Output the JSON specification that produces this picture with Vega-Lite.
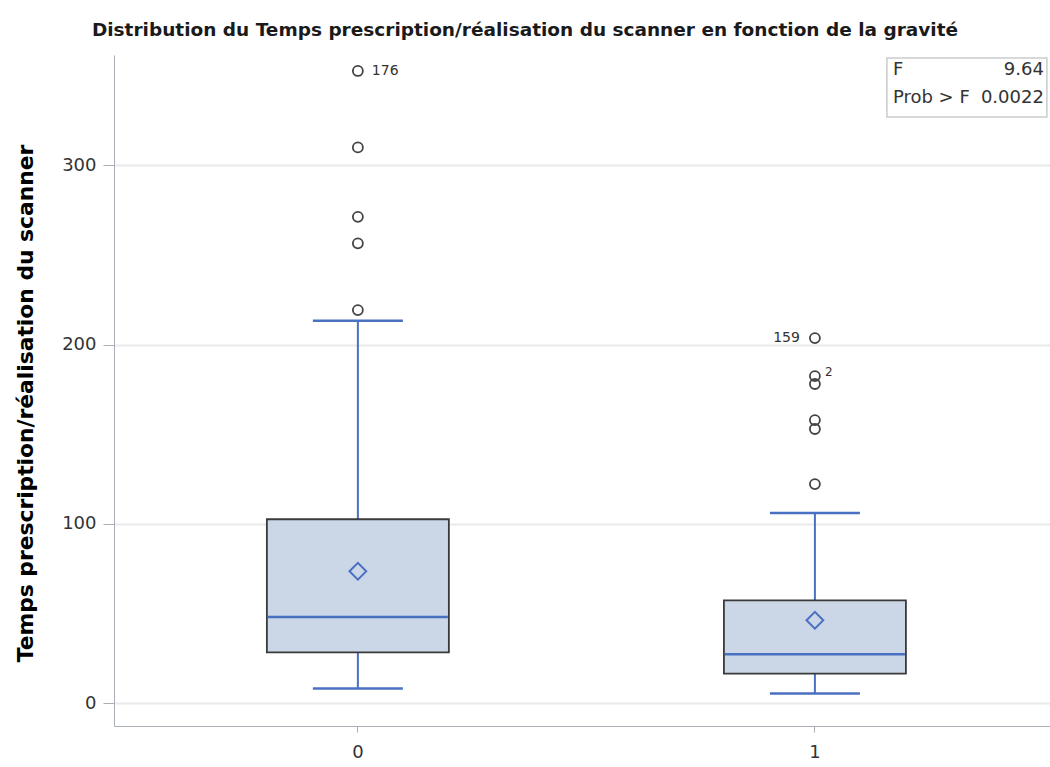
{
  "$schema": "https://vega.github.io/schema/vega-lite/v6.json",
  "width": 936,
  "height": 671,
  "autosize": {"type": "none"},
  "padding": {"left": 114, "top": 55, "right": 0, "bottom": 41},
  "background": "white",
  "config": {
    "view": {"stroke": null},
    "font": "DejaVu Sans",
    "axis": {
      "domainColor": "#a9afb5",
      "tickColor": "#a9afb5",
      "labelColor": "#333333",
      "labelFont": "DejaVu Sans",
      "labelFontSize": 18,
      "titleFont": "DejaVu Sans",
      "titleColor": "#000000"
    }
  },
  "title": {
    "text": "Distribution du Temps prescription/réalisation du scanner en fonction de la gravité",
    "font": "DejaVu Sans",
    "fontSize": 18.5,
    "fontWeight": "bold",
    "color": "#1a1a1a",
    "anchor": "middle",
    "dx": -57,
    "offset": 16
  },
  "datasets": {
    "boxes": [
      {"grav": "0", "min": 8.2, "q1": 28.4, "median": 48.1, "q3": 102.6, "max": 213.2, "mean": 73.6},
      {"grav": "1", "min": 5.4, "q1": 16.6, "median": 27.3, "q3": 57.4, "max": 106.1, "mean": 46.3}
    ],
    "outliers": [
      {"grav": "0", "v": 219.2},
      {"grav": "0", "v": 256.4},
      {"grav": "0", "v": 271.2},
      {"grav": "0", "v": 309.9},
      {"grav": "0", "v": 352.5},
      {"grav": "1", "v": 122.2},
      {"grav": "1", "v": 152.9},
      {"grav": "1", "v": 157.9},
      {"grav": "1", "v": 178.0},
      {"grav": "1", "v": 182.4},
      {"grav": "1", "v": 203.6}
    ],
    "labels_right": [
      {"grav": "0", "v": 352.5, "txt": "176"}
    ],
    "labels_left": [
      {"grav": "1", "v": 203.6, "txt": "159"}
    ],
    "labels_small": [
      {"grav": "1", "v": 182.4, "txt": "2"}
    ],
    "inset": [
      {"grav": "1", "top": 359.7, "bottom": 326.8}
    ],
    "inset_rows": [
      {"grav": "1", "y": 352.8, "label": "F", "val": "9.64"},
      {"grav": "1", "y": 337.2, "label": "Prob > F", "val": "0.0022"}
    ]
  },
  "encoding": {
    "x": {
      "field": "grav",
      "type": "nominal",
      "scale": {"type": "band", "paddingInner": 0, "paddingOuter": 0.024, "align": 0.7},
      "axis": {"title": null, "labelAngle": 0, "grid": false, "tickSize": 6, "labelPadding": 11, "labelFontSize": 18}
    }
  },
  "layer": [
    {
      "data": {"name": "boxes"},
      "mark": {"type": "rule", "color": "#4a70c2", "strokeWidth": 2},
      "encoding": {
        "y": {
          "field": "min",
          "type": "quantitative",
          "scale": {"domain": [-12.65, 361.4], "nice": false, "zero": false},
          "axis": {
            "title": "Temps prescription/réalisation du scanner",
            "titleFontSize": 21.8,
            "titleFontWeight": "bold",
            "titleX": -89,
            "titleY": 348,
            "titleBaseline": "middle",
            "titleAlign": "center",
            "titleAngle": -90,
            "values": [0, 100, 200, 300],
            "grid": true,
            "gridColor": "#e9e9e9",
            "gridWidth": 2,
            "tickSize": 11,
            "labelPadding": 7
          }
        },
        "y2": {"field": "q1"}
      }
    },
    {
      "data": {"name": "boxes"},
      "mark": {"type": "rule", "color": "#4a70c2", "strokeWidth": 2},
      "encoding": {
        "y": {"field": "q3", "type": "quantitative"},
        "y2": {"field": "max"}
      }
    },
    {
      "data": {"name": "boxes"},
      "mark": {"type": "bar", "size": 182, "fill": "#cbd6e6", "stroke": "#3a3a3a", "strokeWidth": 1.8},
      "encoding": {
        "y": {"field": "q1", "type": "quantitative"},
        "y2": {"field": "q3"}
      }
    },
    {
      "data": {"name": "boxes"},
      "mark": {"type": "tick", "size": 180, "thickness": 2.5, "color": "#4a70c2", "opacity": 1},
      "encoding": {
        "y": {"field": "median", "type": "quantitative"}
      }
    },
    {
      "data": {"name": "boxes"},
      "mark": {"type": "tick", "size": 90, "thickness": 2.5, "color": "#4a70c2", "opacity": 1},
      "encoding": {
        "y": {"field": "min", "type": "quantitative"}
      }
    },
    {
      "data": {"name": "boxes"},
      "mark": {"type": "tick", "size": 90, "thickness": 2.5, "color": "#4a70c2", "opacity": 1},
      "encoding": {
        "y": {"field": "max", "type": "quantitative"}
      }
    },
    {
      "data": {"name": "boxes"},
      "mark": {"type": "point", "shape": "diamond", "filled": false, "size": 280, "stroke": "#4a70c2", "strokeWidth": 2, "opacity": 1},
      "encoding": {
        "y": {"field": "mean", "type": "quantitative"}
      }
    },
    {
      "data": {"name": "outliers"},
      "mark": {"type": "point", "shape": "circle", "filled": false, "size": 100, "stroke": "#444444", "strokeWidth": 1.8, "opacity": 1},
      "encoding": {
        "y": {"field": "v", "type": "quantitative"}
      }
    },
    {
      "data": {"name": "labels_right"},
      "mark": {"type": "text", "align": "left", "baseline": "middle", "dx": 14, "font": "DejaVu Sans", "fontSize": 14, "color": "#333333"},
      "encoding": {
        "y": {"field": "v", "type": "quantitative"},
        "text": {"field": "txt"}
      }
    },
    {
      "data": {"name": "labels_left"},
      "mark": {"type": "text", "align": "right", "baseline": "middle", "dx": -15, "font": "DejaVu Sans", "fontSize": 14, "color": "#333333"},
      "encoding": {
        "y": {"field": "v", "type": "quantitative"},
        "text": {"field": "txt"}
      }
    },
    {
      "data": {"name": "labels_small"},
      "mark": {"type": "text", "align": "left", "baseline": "middle", "dx": 10, "dy": -4, "font": "DejaVu Sans", "fontSize": 12, "color": "#333333"},
      "encoding": {
        "y": {"field": "v", "type": "quantitative"},
        "text": {"field": "txt"}
      }
    },
    {
      "data": {"name": "inset"},
      "mark": {"type": "rect", "fill": "white", "stroke": "#cccccc", "strokeWidth": 1.5, "xOffset": 72, "x2Offset": 232},
      "encoding": {
        "x": {"field": "grav", "type": "nominal", "bandPosition": 0.5},
        "x2": {"field": "grav", "bandPosition": 0.5},
        "y": {"field": "top", "type": "quantitative"},
        "y2": {"field": "bottom"}
      }
    },
    {
      "data": {"name": "inset_rows"},
      "mark": {"type": "text", "align": "left", "baseline": "middle", "dx": 78, "font": "DejaVu Sans", "fontSize": 18, "color": "#333333"},
      "encoding": {
        "y": {"field": "y", "type": "quantitative"},
        "text": {"field": "label"}
      }
    },
    {
      "data": {"name": "inset_rows"},
      "mark": {"type": "text", "align": "right", "baseline": "middle", "dx": 229, "font": "DejaVu Sans", "fontSize": 18, "color": "#333333"},
      "encoding": {
        "y": {"field": "y", "type": "quantitative"},
        "text": {"field": "val"}
      }
    }
  ]
}
